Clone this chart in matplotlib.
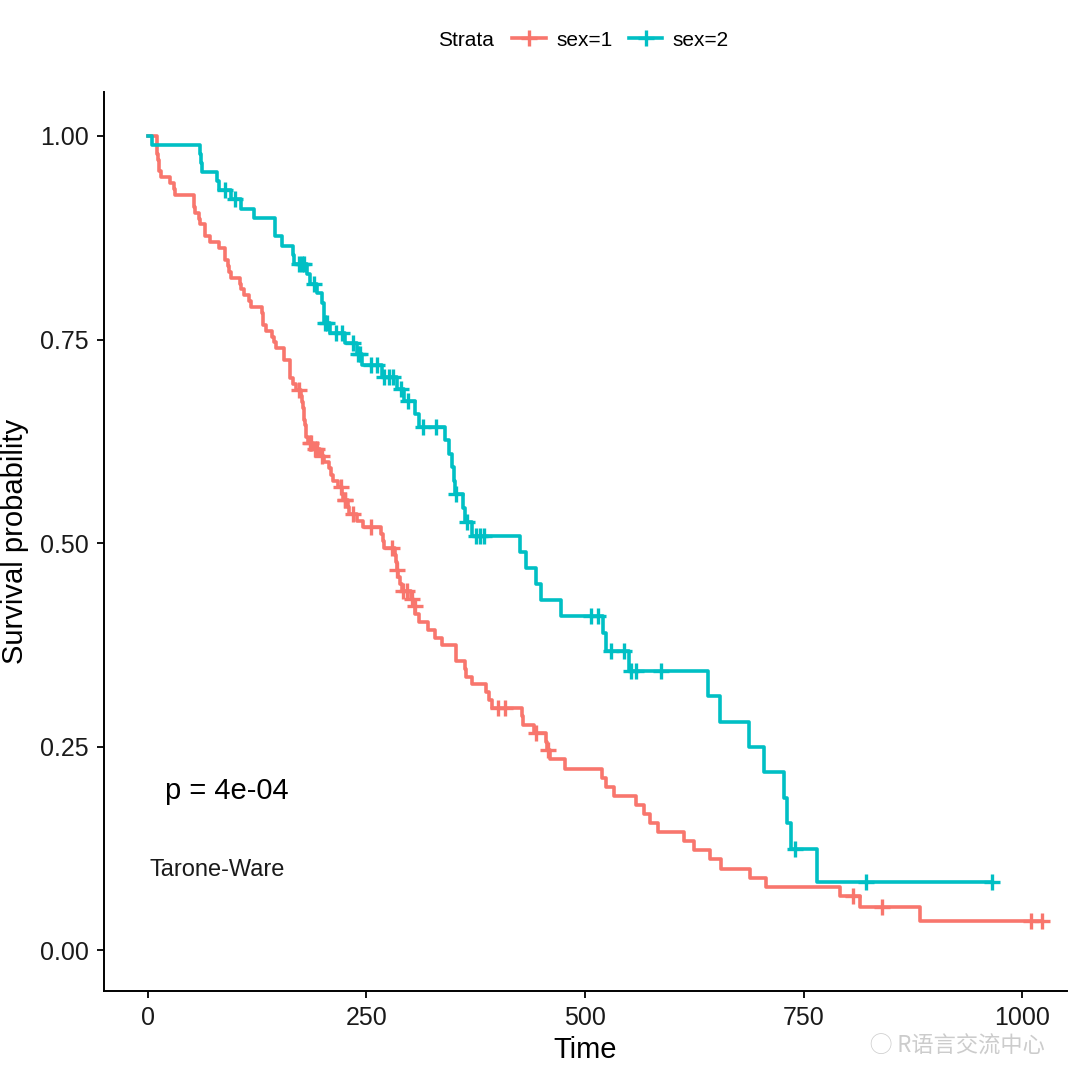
import numpy as np
import matplotlib
matplotlib.use("Agg")
import matplotlib.pyplot as plt
from matplotlib.lines import Line2D

plt.rcParams['font.family'] = ['Liberation Sans', 'DejaVu Sans']

# Kaplan-Meier steps (time, survival after the drop)
male_times = [11, 12, 13, 15, 26, 30, 31, 53, 54, 59, 60, 65, 71, 81, 88, 92, 93, 95,
              105, 107, 110, 116, 118, 131, 132, 135, 142, 144, 147, 156, 163, 166,
              170, 175, 176, 177, 179, 180, 181, 183, 189, 197, 202, 207, 210, 212,
              218, 222, 223, 229, 230, 239, 246, 267, 269, 270, 283, 284, 285, 286,
              288, 291, 301, 303, 306, 310, 320, 329, 337, 353, 363, 364, 371, 387,
              390, 394, 428, 429, 442, 455, 457, 460, 477, 519, 524, 533, 558, 567,
              574, 583, 613, 624, 643, 655, 689, 707, 791, 814, 883]
male_surv = [0.9783, 0.9710, 0.9565, 0.9493, 0.9420, 0.9348, 0.9275, 0.9130, 0.9058,
             0.8986, 0.8913, 0.8768, 0.8696, 0.8623, 0.8478, 0.8406, 0.8333, 0.8261,
             0.8188, 0.8116, 0.8043, 0.7971, 0.7899, 0.7826, 0.7681, 0.7609, 0.7536,
             0.7464, 0.7391, 0.7246, 0.7029, 0.6957, 0.6884, 0.6811, 0.6738, 0.6664,
             0.6518, 0.6445, 0.6298, 0.6225, 0.6150, 0.6073, 0.5995, 0.5917, 0.5839,
             0.5762, 0.5684, 0.5605, 0.5525, 0.5442, 0.5360, 0.5276, 0.5192, 0.5107,
             0.5022, 0.4937, 0.4850, 0.4764, 0.4676, 0.4587, 0.4499, 0.4411, 0.4319,
             0.4225, 0.4129, 0.4033, 0.3937, 0.3841, 0.3745, 0.3553, 0.3457, 0.3361,
             0.3265, 0.3169, 0.3073, 0.2977, 0.2874, 0.2771, 0.2669, 0.2562, 0.2455,
             0.2344, 0.2232, 0.2120, 0.2009, 0.1897, 0.1786, 0.1674, 0.1563, 0.1451,
             0.1339, 0.1228, 0.1116, 0.1004, 0.0893, 0.0781, 0.0670, 0.0536, 0.0357]
male_censor = [173, 185, 187, 191, 193, 199, 221, 225, 226, 235, 255, 279, 285, 292,
               296, 302, 305, 400, 409, 444, 458, 806, 840, 1010, 1022]

female_times = [5, 60, 61, 62, 79, 81, 95, 107, 122, 145, 153, 166, 167, 182, 186, 194,
                199, 201, 208, 226, 239, 245, 268, 285, 293, 305, 310, 340, 345, 348,
                350, 351, 361, 363, 371, 426, 433, 444, 450, 473, 520, 524, 550, 641,
                654, 687, 705, 728, 731, 735, 765]
female_surv = [0.9889, 0.9778, 0.9667, 0.9556, 0.9444, 0.9333, 0.9221, 0.9107, 0.8993,
               0.8766, 0.8652, 0.8538, 0.8424, 0.8305, 0.8187, 0.8066, 0.7946, 0.7705,
               0.7581, 0.7452, 0.7322, 0.7186, 0.7045, 0.6895, 0.6742, 0.6585, 0.6428,
               0.6264, 0.6099, 0.5934, 0.5769, 0.5604, 0.5434, 0.5265, 0.5089, 0.4893,
               0.4698, 0.4502, 0.4306, 0.4110, 0.3894, 0.3678, 0.3433, 0.3121, 0.2809,
               0.2497, 0.2185, 0.1873, 0.1561, 0.1249, 0.0833]
female_censor = [88, 100, 173, 176, 179, 190, 203, 205, 215, 222, 235, 240, 243, 255,
                 262, 270, 276, 280, 290, 298, 315, 330, 353, 365, 375, 380, 385, 507,
                 515, 530, 545, 553, 558, 587, 740, 821, 965]

strata = ['sex=1', 'sex=2']
colors = ['#F8766D', '#00BFC4']
pval_text = 'p = 4e-04'
method_text = 'Tarone-Ware'

fig = plt.figure(figsize=(10.8, 10.7), dpi=100)
ax = fig.add_axes([104 / 1080, 79 / 1070, (1067 - 104) / 1080, (991 - 92) / 1070])


def surv_at(t, times, surv):
    i = np.searchsorted(times, t, side='right')
    return 1.0 if i == 0 else surv[i - 1]


groups = [(male_times, male_surv, male_censor), (female_times, female_surv, female_censor)]
for (times, surv, cens), col in zip(groups, colors):
    end = max(max(times), max(cens))
    xs = [0] + list(times) + [end]
    ys = [1.0] + list(surv) + [surv[-1]]
    ax.step(xs, ys, where='post', color=col, lw=2.6, zorder=3)
    cy = [surv_at(c, times, surv) for c in cens]
    ax.plot(cens, cy, ls='none', marker='+', ms=12, mew=2.4, color=col, zorder=4)

ax.set_xlim(-50, 1051)
ax.set_ylim(-0.05, 1.054)
ax.set_xticks([0, 250, 500, 750, 1000])
ax.set_yticks([0, 0.25, 0.5, 0.75, 1.0])
ax.set_yticklabels(['0.00', '0.25', '0.50', '0.75', '1.00'])
for s in ['top', 'right']:
    ax.spines[s].set_visible(False)
for s in ['left', 'bottom']:
    ax.spines[s].set_linewidth(1.4)
ax.tick_params(labelsize=18, length=5, width=1.3, color='black', labelcolor='#1a1a1a', pad=6)
ax.set_xlabel('Time', fontsize=21, labelpad=4)
ax.set_ylabel('Survival probability', fontsize=21, labelpad=8)

ax.text(20, 0.195, pval_text, fontsize=21, ha='left', va='center')
ax.text(2, 0.098, method_text, fontsize=17, ha='left', va='center', color='#1a1a1a')

# legend at top
fig.text(438 / 1080, 1 - 40 / 1070, 'Strata', fontsize=15, ha='left', va='center')
handles = [Line2D([0], [0], color=c, lw=2.6, marker='+', ms=12, mew=2.4) for c in colors]
fig.legend(handles, strata, loc='center left', bbox_to_anchor=(502 / 1080, 1 - 40 / 1070),
           ncol=2, frameon=False, fontsize=15, handlelength=1.6, handletextpad=0.5,
           columnspacing=0.8, borderpad=0)

# watermark, nudged below the tick labels
fig.text(1045 / 1080, 1 - 1046 / 1070, '◯ R语言交流中心', fontsize=16, ha='right', va='center',
         color='#cccccc', family=['Noto Sans CJK SC', 'DejaVu Sans'], zorder=10)

fig.savefig('out.png', dpi=100)
